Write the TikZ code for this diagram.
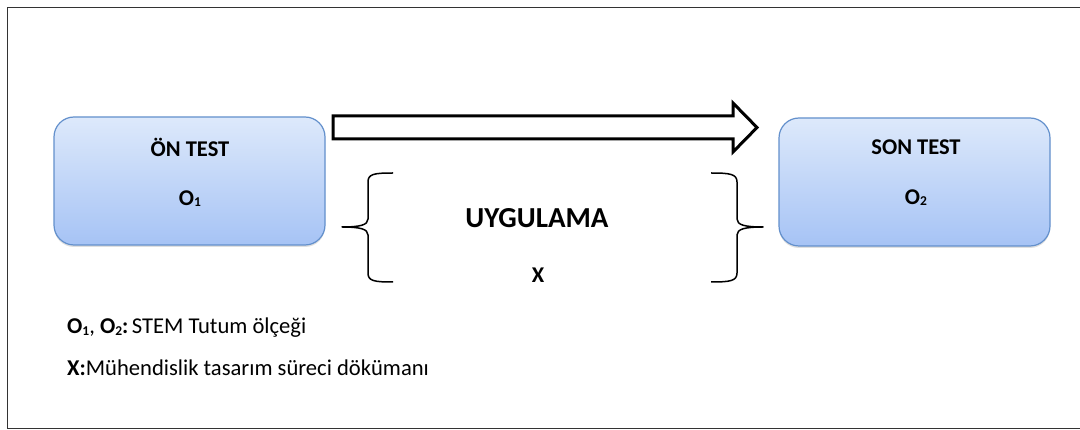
\documentclass[tikz,border=0pt]{standalone}
\usepackage{fontspec}
\setmainfont{Carlito}
\usetikzlibrary{shadows}
\definecolor{boxtop}{HTML}{DDE9FB}
\definecolor{boxbot}{HTML}{A6C3F5}
\definecolor{boxline}{HTML}{6390CC}
\newcommand{\sub}[1]{\raisebox{-0.05em}{\fontsize{13.5}{13.5}\selectfont #1}}
\tikzset{
  testbox/.style={rounded corners=20pt, draw=boxline, line width=1.2pt,
    top color=boxtop, bottom color=boxbot, minimum width=271pt, minimum height=128pt,
    drop shadow={shadow xshift=0pt, shadow yshift=-2pt, opacity=0.25}},
  lbl/.style={font=\fontsize{22.5}{22.5}\selectfont\bfseries, inner sep=0pt},
  brace/.style={line width=1.5pt, line join=round},
  note/.style={font=\fontsize{22.6}{22.6}\selectfont, anchor=west, inner sep=0pt}
}
\begin{document}
\begin{tikzpicture}[x=1pt,y=-1pt]
\useasboundingbox (0,0) rectangle (1080,430);
\fill[white] (0,0) rectangle (1080,430);
\draw[line width=1.5pt, color=black!80] (1082,7.5) -- (7.5,7.5) -- (7.5,428.5) -- (1082,428.5);
% boxes
\node[testbox] (pre) at (189.5,181) {};
\node[testbox] (post) at (914.5,182) {};
\node[lbl] (pret) at (190,147) {ÖN TEST};
\node[lbl] (preo) at (190,199) {O\sub{1}};
\node[lbl] (postt) at (916,147) {SON TEST};
\node[lbl] (posto) at (916,198) {O\sub{2}};
% block arrow
\draw[line width=3pt, line join=miter, fill=white]
  (333,116) -- (733,116) -- (733,103) -- (757,127.5) -- (733,152) -- (733,139) -- (333,139) -- cycle;
% braces
\draw[brace] (393,173) .. controls (374,173) and (368,174) .. (368,182) -- (368,219)
  .. controls (368,225) and (360,227) .. (342,227)
  .. controls (360,227) and (368,229) .. (368,235) -- (368,273)
  .. controls (368,281) and (374,282) .. (393,282);
\draw[brace] (711,173) .. controls (730,173) and (737,174) .. (737,182) -- (737,219)
  .. controls (737,225) and (745,227) .. (763,227)
  .. controls (745,227) and (737,229) .. (737,235) -- (737,273)
  .. controls (737,281) and (730,282) .. (711,282);
\node[font=\fontsize{29}{29}\selectfont\bfseries, inner sep=0pt] (app) at (537,218) {UYGULAMA};
\node[lbl] (x) at (538,275) {X};
% notes
\node[note] (n1) at (67,328) {\textbf{O\sub{1}}, \textbf{O\sub{2}:}\hspace{0.15em}STEM Tutum ölçeği};
\node[note] (n2) at (67,368) {\textbf{X:}Mühendislik tasarım süreci dökümanı};
\end{tikzpicture}
\end{document}
